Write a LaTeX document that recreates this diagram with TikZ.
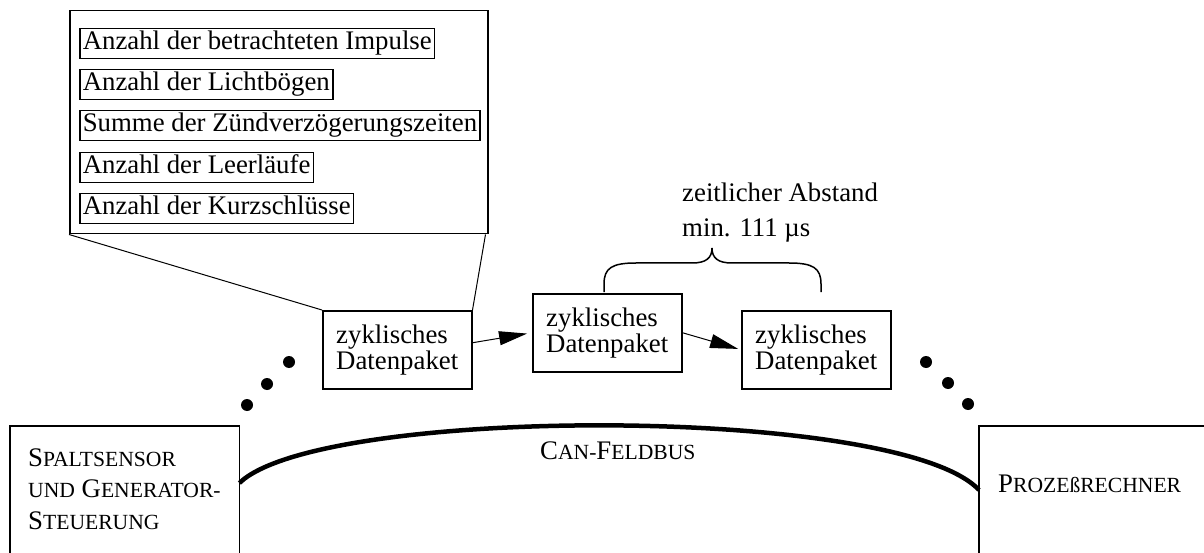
\documentclass[tikz,border=0pt]{standalone}
\usepackage{fontspec}
\setmainfont{Liberation Serif}
\usetikzlibrary{arrows.meta,calc}
\newcommand{\bigsz}{\fontsize{26.8}{26}\selectfont}
\newcommand{\capA}{\fontsize{26.8}{31.5}\selectfont}
\newcommand{\capB}[1]{{\fontsize{21.6}{31.5}\selectfont #1}}
\begin{document}
\begin{tikzpicture}[x=1pt,y=-1pt,
  every node/.style={font=\bigsz},
  itembox/.style={draw,line width=1.5pt,anchor=north west,inner xsep=3pt,inner ysep=0pt,
     minimum height=30pt,text height=18.5pt,text depth=6pt},
  pkt/.style={draw,line width=1.5pt,anchor=north west,minimum width=149pt,minimum height=78pt,
     align=left,inner sep=0pt,font=\fontsize{26.8}{26}\selectfont},
  thin/.style={line width=1pt},
  arr/.style={line width=1pt,-{Triangle[length=28pt,width=14pt]}},
  dot/.style={fill=black},
  station/.style={inner sep=0pt,anchor=north west}
]
\useasboundingbox (0,0) rectangle (1204,553);

% callout box
\node[draw,line width=1.5pt,anchor=north west,minimum width=418pt,minimum height=223pt,inner sep=0pt] (call) at (69,10) {};
\node[itembox] (i1) at (79,28) {Anzahl der betrachteten Impulse};
\node[itembox] (i2) at (79,69) {Anzahl der Lichtbögen};
\node[itembox] (i3) at (79,110) {Summe der Zündverzögerungszeiten};
\node[itembox] (i4) at (79,152) {Anzahl der Leerläufe};
\node[itembox] (i5) at (79,193) {Anzahl der Kurzschlüsse};

% packets
\node[pkt] (p1) at (322,310) {zyklisches\\Datenpaket};
\node[pkt] (p2) at (532,293) {zyklisches\\Datenpaket};
\node[pkt] (p3) at (741,310) {zyklisches\\Datenpaket};

\draw[thin] (call.south west) -- (p1.north west);
\draw[thin] ($(call.south east)+(-3,0)$) -- (p1.north east);

\draw[arr,shorten >=5pt] ($(p1.east)+(0,-7)$) -- (p2.west);
\draw[arr,shorten >=3pt] (p2.east) -- (p3.west);

% brace
\coordinate (bl) at (604,292);
\coordinate (br) at (821,292);
\draw[line width=1.5pt] (bl) -- (604,284) .. controls (604,268) and (612,263) .. (636,263)
  -- (692,263) .. controls (706,263) and (712,258) .. (712,248)
  .. controls (712,258) and (718,263) .. (732,263) -- (789,263)
  .. controls (813,263) and (821,268) .. (821,284) -- (br);
\node[anchor=base west,align=left,inner sep=0pt,font=\fontsize{26.8}{35}\selectfont] (lab) at (682,237) {zeitlicher Abstand\\min. 111 µs};

% dots
\fill[dot] (289,362) circle (6pt);
\fill[dot] (267,384) circle (6pt);
\fill[dot] (247,405) circle (6pt);
\fill[dot] (926,362) circle (6pt);
\fill[dot] (948,383) circle (6pt);
\fill[dot] (968,404) circle (6pt);

% stations
\node[station,minimum width=229pt,minimum height=127pt] (sp) at (10,426) {};
\draw[line width=1.5pt] (sp.south west) -- (sp.north west) -- (sp.north east) -- (sp.south east);
\node[anchor=base west,inner sep=0pt,align=left,font=\capA] (spt) at (28,529)
  {S\capB{PALTSENSOR}\\\capB{UND} G\capB{ENERATOR-}\\S\capB{TEUERUNG}};

\node[station,minimum width=240pt,minimum height=127pt] (pr) at (979,426) {};
\draw[line width=1.5pt] (pr.south west) -- (pr.north west) -- (pr.north east);
\node[anchor=base west,inner sep=0pt,font=\capA] (prt) at (998,492) {P\capB{ROZEßRECHNER}};

% bus
\draw[line width=4.5pt] (sp.east |- 0,483) .. controls (320,405) and (900,405) .. (pr.west |- 0,490);
\node[anchor=base west,inner sep=0pt,font=\capA] (bus) at (540,459) {C\capB{AN-}F\capB{ELDBUS}};
\end{tikzpicture}
\end{document}
